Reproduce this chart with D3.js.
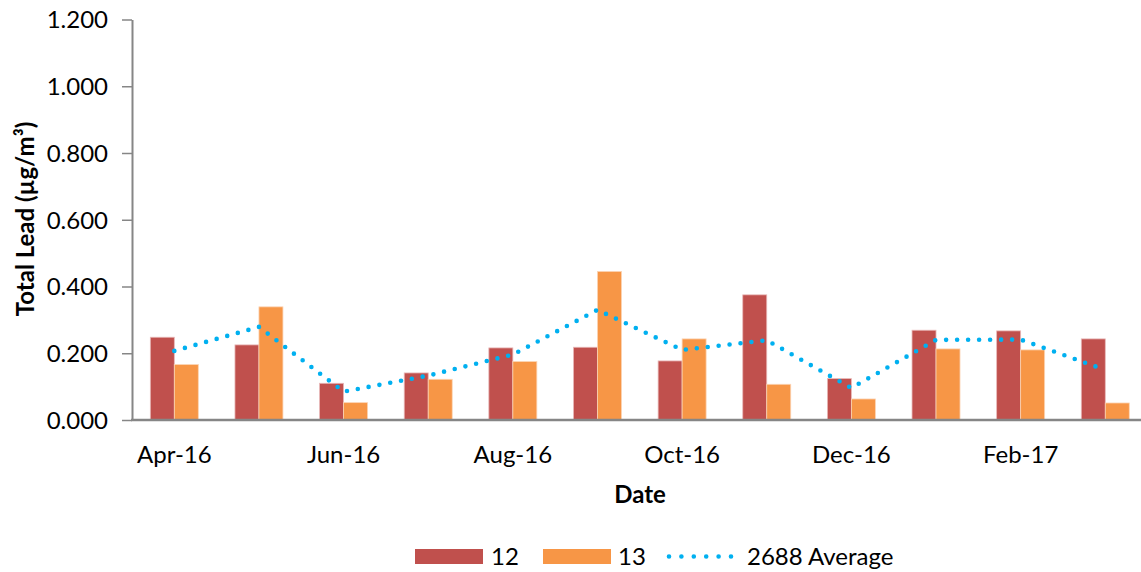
<!DOCTYPE html>
<html><head><meta charset="utf-8">
<script src="https://cdn.jsdelivr.net/npm/d3@7"></script>
<style>body{margin:0;background:#fff}svg{display:block}text{font-family:Lato,"Open Sans",sans-serif;fill:#000}</style>
</head><body>
<script>
const categories = ["Apr-16","May-16","Jun-16","Jul-16","Aug-16","Sep-16","Oct-16","Nov-16","Dec-16","Jan-17","Feb-17","Mar-17"];
const tickLabels = ["Apr-16","Jun-16","Aug-16","Oct-16","Dec-16","Feb-17"];
const series12 = [0.248,0.225,0.110,0.141,0.216,0.218,0.177,0.375,0.124,0.269,0.267,0.243];
const series13 = [0.166,0.339,0.052,0.122,0.175,0.445,0.243,0.107,0.063,0.213,0.210,0.051];
const average2688 = [0.207,0.279,0.085,0.133,0.196,0.330,0.210,0.239,0.096,0.240,0.241,0.150];
const yTicks = [0,0.2,0.4,0.6,0.8,1.0,1.2];

const W=1141,H=572;
const FS="24px";
const svg=d3.select("body").append("svg").attr("width",W).attr("height",H);
const x0=132, x1=1147.6, yTop=19.5, yBot=420;
const x=d3.scaleBand().domain(categories).range([x0,x1]).paddingInner(0.433).paddingOuter(0.2165);
const sub=d3.scaleBand().domain(["12","13"]).range([0,x.bandwidth()]);
const y=d3.scaleLinear().domain([0,1.2]).range([yBot,yTop]);
const axisCol="#868686";

// bars
const colors={"12":"#C0504D","13":"#F79646"};
[["12",series12],["13",series13]].forEach(([k,vals])=>{
  svg.append("g").selectAll("rect").data(vals).join("rect")
    .attr("x",(d,i)=>x(categories[i])+sub(k))
    .attr("y",d=>y(d))
    .attr("width",sub.bandwidth())
    .attr("height",d=>yBot-y(d))
    .attr("fill",colors[k])
    .attr("stroke",k==="12"?"#e8b9b8":"#fbd4b4").attr("stroke-width",0.8);
});

// axes
const ya=d3.axisLeft(y).tickValues(yTicks).tickFormat(d3.format(".3f")).tickSize(10).tickSizeOuter(0).tickPadding(14);
const gy=svg.append("g").attr("transform",`translate(${x0},0)`).call(ya);
gy.select(".domain").attr("stroke",axisCol).attr("stroke-width",2);
gy.selectAll(".tick line").attr("stroke",axisCol).attr("stroke-width",1.5);
gy.selectAll("text").style("font-size",FS).attr("dy","0.35em");

svg.append("line").attr("x1",x0-1).attr("x2",x1).attr("y1",yBot).attr("y2",yBot).attr("stroke",axisCol).attr("stroke-width",2.5);
svg.append("g").selectAll("text").data(tickLabels).join("text")
  .attr("x",d=>x(d)+x.bandwidth()/2).attr("y",463).attr("text-anchor","middle")
  .style("font-size",FS).text(d=>d);

// average line
const line=d3.line().x((d,i)=>x(categories[i])+x.bandwidth()/2).y(d=>y(d));
svg.append("path").datum(average2688).attr("d",line).attr("fill","none")
  .attr("stroke","#00B0F0").attr("stroke-width",4.6).attr("stroke-linecap","round")
  .attr("stroke-dasharray","0,11");

// titles
svg.append("text").attr("x",640).attr("y",503).attr("text-anchor","middle")
  .style("font-size",FS).style("font-weight","bold").text("Date");
svg.append("text").attr("transform","translate(34,219) rotate(-90)").attr("text-anchor","middle")
  .style("font-size",FS).style("font-weight","bold").text("Total Lead (µg/m³)");

// legend
const lg=svg.append("g");
lg.append("rect").attr("x",415).attr("y",549).attr("width",68).attr("height",15).attr("fill",colors["12"]);
lg.append("text").attr("x",491).attr("y",565).style("font-size",FS).text("12");
lg.append("rect").attr("x",543).attr("y",549).attr("width",68).attr("height",15).attr("fill",colors["13"]);
lg.append("text").attr("x",618).attr("y",565).style("font-size",FS).text("13");
lg.append("line").attr("x1",669).attr("x2",732).attr("y1",556.5).attr("y2",556.5)
  .attr("stroke","#00B0F0").attr("stroke-width",4.6).attr("stroke-linecap","round").attr("stroke-dasharray","0,12.4");
lg.append("text").attr("x",747).attr("y",565).style("font-size",FS).text("2688 Average");
</script>
</body></html>
